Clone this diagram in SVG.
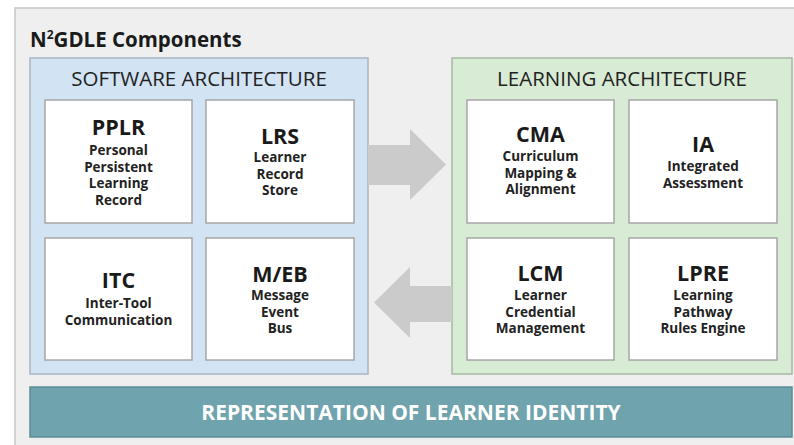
<svg xmlns="http://www.w3.org/2000/svg" width="794" height="445" viewBox="0 0 794 445">
<style>
.t{font-family:"Open Sans","Noto Sans","Liberation Sans",sans-serif;text-anchor:middle;fill:#1a1a1a}
.h{font-size:21.5px;font-weight:700}
.s{font-size:13.5px;font-weight:700;fill:#222}
.sec{font-size:20.5px;font-weight:400;fill:#222}
.box{fill:#ffffff;stroke:#a7a7a7;stroke-width:1.5}
.arrow{fill:#cbcbcb}
</style>
<rect x="0" y="0" width="794" height="445" fill="#ffffff"/>
<rect x="15" y="8" width="800" height="450" fill="#efefef" stroke="#c6c6c6" stroke-width="1.5"/>
<text class="t" x="30" y="47" style="text-anchor:start;font-size:20.5px;font-weight:700">N<tspan dy="-8" font-size="12">2</tspan><tspan dy="8">GDLE Components</tspan></text>

<g id="software-architecture">
<rect x="30" y="58" width="338" height="316" fill="#d2e3f3" stroke="#a9b6c3" stroke-width="1.5"/>
<text class="t sec" x="199" y="86">SOFTWARE ARCHITECTURE</text>
</g>
<g id="learning-architecture">
<rect x="452" y="58" width="340" height="316" fill="#d8ebd4" stroke="#a8b9a5" stroke-width="1.5"/>
<text class="t sec" x="622" y="86">LEARNING ARCHITECTURE</text>
</g>

<g id="pplr">
<rect class="box" x="45" y="100" width="147" height="123"/>
<text class="t h" x="118.5" y="135">PPLR</text>
<text class="t s" x="118.5" y="155">Personal</text>
<text class="t s" x="118.5" y="171.5">Persistent</text>
<text class="t s" x="118.5" y="188">Learning</text>
<text class="t s" x="118.5" y="204.5">Record</text>
</g>
<g id="lrs">
<rect class="box" x="206" y="100" width="148" height="123"/>
<text class="t h" x="280" y="143.5">LRS</text>
<text class="t s" x="280" y="162">Learner</text>
<text class="t s" x="280" y="178.5">Record</text>
<text class="t s" x="280" y="195">Store</text>
</g>
<g id="itc">
<rect class="box" x="45" y="238" width="147" height="122"/>
<text class="t h" x="118.5" y="287.5">ITC</text>
<text class="t s" x="118.5" y="308">Inter-Tool</text>
<text class="t s" x="118.5" y="324.5">Communication</text>
</g>
<g id="meb">
<rect class="box" x="206" y="238" width="148" height="122"/>
<text class="t h" x="280" y="281.5">M/EB</text>
<text class="t s" x="280" y="300">Message</text>
<text class="t s" x="280" y="316.5">Event</text>
<text class="t s" x="280" y="333">Bus</text>
</g>
<g id="cma">
<rect class="box" x="467" y="100" width="147" height="123"/>
<text class="t h" x="540.5" y="141.5">CMA</text>
<text class="t s" x="540.5" y="161">Curriculum</text>
<text class="t s" x="540.5" y="177.5">Mapping &amp;</text>
<text class="t s" x="540.5" y="194">Alignment</text>
</g>
<g id="ia">
<rect class="box" x="629" y="100" width="148" height="123"/>
<text class="t h" x="703" y="151.5">IA</text>
<text class="t s" x="703" y="171">Integrated</text>
<text class="t s" x="703" y="187.5">Assessment</text>
</g>
<g id="lcm">
<rect class="box" x="467" y="238" width="147" height="122"/>
<text class="t h" x="540.5" y="280.5">LCM</text>
<text class="t s" x="540.5" y="300">Learner</text>
<text class="t s" x="540.5" y="316.5">Credential</text>
<text class="t s" x="540.5" y="333">Management</text>
</g>
<g id="lpre">
<rect class="box" x="629" y="238" width="148" height="122"/>
<text class="t h" x="703" y="280.5">LPRE</text>
<text class="t s" x="703" y="300">Learning</text>
<text class="t s" x="703" y="316.5">Pathway</text>
<text class="t s" x="703" y="333">Rules Engine</text>
</g>

<g id="connectors">
<polygon class="arrow" points="368,145 410,145 410,129 446,164.5 410,200 410,185 368,185"/>
<polygon class="arrow" points="452,286 410,286 410,267 374,302.5 410,338 410,322 452,322"/>
</g>

<g id="learner-identity">
<rect x="30" y="387" width="762" height="50" fill="#6fa3ad" stroke="#5c8d96" stroke-width="1.5"/>
<text class="t" x="411" y="419.5" style="font-size:21px;font-weight:700;fill:#ffffff">REPRESENTATION OF LEARNER IDENTITY</text>
</g>
</svg>
